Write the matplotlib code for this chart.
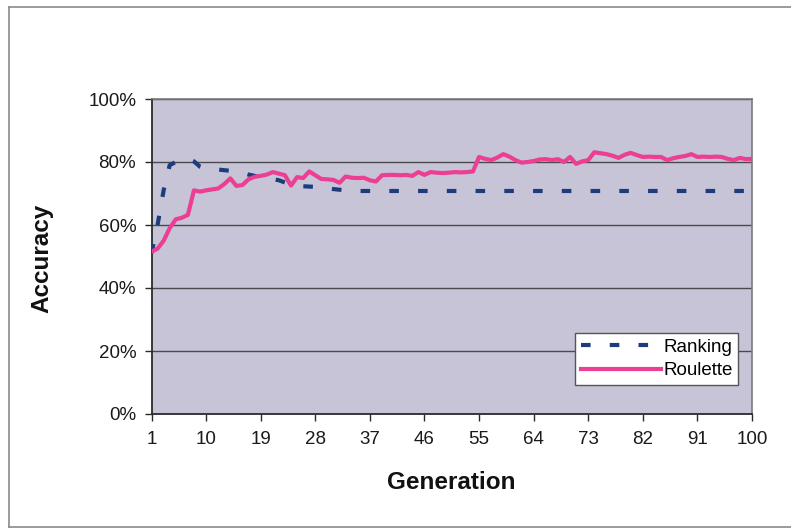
import numpy as np
import matplotlib.pyplot as plt
from matplotlib.ticker import PercentFormatter
from matplotlib.lines import Line2D

# ==== DATA ==================================================

generation = np.arange(1, 101)

ranking = [
    51.0, 60.0, 71.0, 79.0, 80.0, 80.3, 81.0, 80.2, 78.5, 77.8,
    77.7, 77.6, 77.4, 77.2, 77.0, 76.6, 76.0, 75.6, 75.2, 74.8,
    74.6, 74.2, 73.5, 72.6, 72.4, 72.3, 72.2, 72.1, 72.0, 71.7,
    71.4, 71.2, 71.0, 71.0, 70.8, 70.8, 70.8, 70.8, 70.8, 70.8,
    70.8, 70.8, 70.8, 70.8, 70.8, 70.8, 70.8, 70.8, 70.8, 70.8,
    70.8, 70.8, 70.8, 70.8, 70.8, 70.8, 70.8, 70.8, 70.8, 70.8,
    70.8, 70.8, 70.8, 70.8, 70.8, 70.8, 70.8, 70.8, 70.8, 70.8,
    70.8, 70.8, 70.8, 70.8, 70.8, 70.8, 70.8, 70.8, 70.8, 70.8,
    70.8, 70.8, 70.8, 70.8, 70.8, 70.8, 70.8, 70.8, 70.8, 70.8,
    70.8, 70.8, 70.8, 70.8, 70.8, 70.8, 70.8, 70.8, 70.8, 70.8,
]

roulette = [
    51.5, 52.5, 55.0, 59.0, 61.8, 62.3, 63.2, 71.0, 70.6, 71.0,
    71.3, 71.6, 73.0, 74.8, 72.4, 72.7, 74.5, 75.3, 75.6, 76.0,
    76.8, 76.3, 75.8, 72.5, 75.2, 74.9, 77.0, 75.8, 74.6, 74.5,
    74.3, 73.4, 75.4, 75.0, 74.9, 75.0, 74.2, 73.8, 75.8, 75.9,
    75.9, 75.8, 75.9, 75.6, 76.8, 75.9, 76.8, 76.6, 76.5, 76.6,
    76.8, 76.7, 76.8, 77.0, 81.6, 81.0, 80.6, 81.4, 82.5, 81.7,
    80.6, 79.8, 80.0, 80.3, 80.8, 80.9, 80.6, 80.9, 80.0, 81.6,
    79.4, 80.2, 80.6, 83.1, 82.8, 82.5, 82.0, 81.3, 82.3, 82.9,
    82.2, 81.6, 81.7, 81.6, 81.6, 80.6, 81.2, 81.6, 81.9, 82.5,
    81.6, 81.7, 81.6, 81.7, 81.6, 81.0, 80.6, 81.3, 80.9, 81.0,
]

xticks = [1, 10, 19, 28, 37, 46, 55, 64, 73, 82, 91, 100]

# ============================================================

plt.rcParams['font.family'] = ['Liberation Sans', 'DejaVu Sans']

fig = plt.figure(figsize=(7.91, 5.29), dpi=100)
ax = fig.add_axes([151.5 / 791, 1 - 414 / 529, 600.5 / 791, 315 / 529])
ax.set_facecolor('#c7c4d7')

for y in [20, 40, 60, 80, 100]:
    ax.axhline(y, color='#4a4a4a', lw=1.0, zorder=1)

ax.plot(generation, ranking, color='#1d3c7c', lw=3.0,
        dashes=(2.3, 4.6), dash_capstyle='butt', label='Ranking', zorder=3)
ax.plot(generation, roulette, color='#ec3f93', lw=3.0,
        solid_joinstyle='round', label='Roulette', zorder=4)

ax.set_xlim(1, 100)
ax.set_ylim(0, 100)
ax.set_xticks(xticks)
ax.set_yticks([0, 20, 40, 60, 80, 100])
ax.yaxis.set_major_formatter(PercentFormatter(decimals=0))

for side in ['top', 'right']:
    ax.spines[side].set_color('#7a7a7a')
    ax.spines[side].set_linewidth(1.2)
for side in ['left', 'bottom']:
    ax.spines[side].set_color('#2a2a2a')
    ax.spines[side].set_linewidth(1.3)

ax.tick_params(axis='both', direction='out', length=5, width=1.0,
               color='#2a2a2a', labelsize=13.5, labelcolor='#1a1a1a')
ax.tick_params(axis='x', pad=7)
ax.tick_params(axis='y', pad=6)

ax.set_xlabel('Generation', fontsize=17.5, fontweight='bold', color='#111111')
ax.set_ylabel('Accuracy', fontsize=17.5, fontweight='bold', color='#111111')
ax.xaxis.set_label_coords(0.4988, -0.182)
ax.yaxis.set_label_coords(-0.163, 0.495)

leg = ax.legend(loc='lower left', bbox_to_anchor=((575 - 151.5) / 600.5, (414 - 385) / 315),
                fontsize=13.5, frameon=True, fancybox=False, handlelength=4.3,
                handletextpad=0.1, borderpad=0.3, labelspacing=0.35, borderaxespad=0)
leg.get_frame().set_edgecolor('#555555')
leg.get_frame().set_linewidth(1.0)
leg.get_frame().set_facecolor('white')
leg.get_frame().set_alpha(1)

# chart border (left, top, bottom)
border = dict(color='#8a8a8a', lw=1.2, transform=fig.transFigure)
fig.add_artist(Line2D([9 / 791, 9 / 791], [1 - 7 / 529, 1 - 527 / 529], **border))
fig.add_artist(Line2D([9 / 791, 1], [1 - 7 / 529, 1 - 7 / 529], **border))
fig.add_artist(Line2D([9 / 791, 1], [1 - 527 / 529, 1 - 527 / 529], **border))

fig.savefig('out.png', dpi=100, facecolor='white')
